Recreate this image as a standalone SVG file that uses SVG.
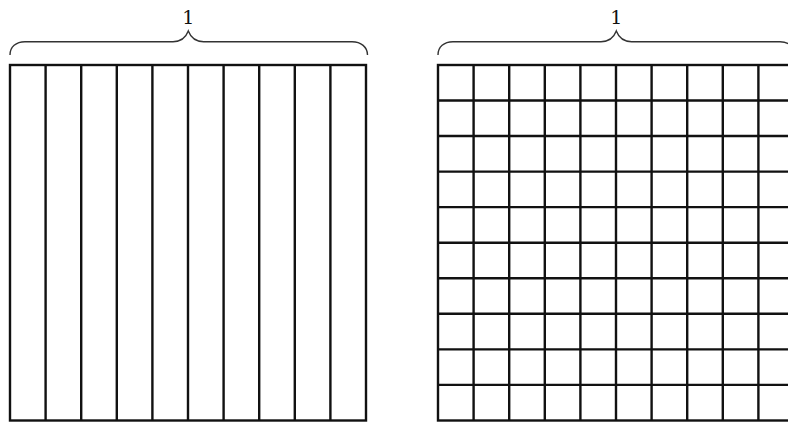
<svg xmlns="http://www.w3.org/2000/svg" width="788" height="423" viewBox="0 0 788 423">
<style>
.brace{fill:none;stroke:#333;stroke-width:1.4}
.lbl{font-family:"DejaVu Serif","Liberation Serif",serif;font-size:19px;fill:#111;text-anchor:middle}
.grid{fill:none;stroke:#111;stroke-width:2.4}
</style>
<rect width="788" height="423" fill="#fff"/>
<g id="left-brace">
<path class="brace" d="M10,55 C10,47 16,41.7 25,41.7 H173 C181,41.7 186,37 188.3,31 C190.6,37 195.6,41.7 203.6,41.7 H352 C361,41.7 367.5,47 367.5,55"/>
<text class="lbl" x="188.3" y="24">1</text>
</g>
<g id="left-square">
<rect class="grid" x="10" y="65" width="356" height="355.5"/>
<path class="grid" d="M45.6,65V420.5M81.2,65V420.5M116.8,65V420.5M152.4,65V420.5M188,65V420.5M223.6,65V420.5M259.2,65V420.5M294.8,65V420.5M330.4,65V420.5"/>
</g>
<g id="right-brace">
<path class="brace" d="M438,55 C438,47 444,41.7 453,41.7 H601 C609,41.7 614,37 616.3,31 C618.6,37 623.6,41.7 631.6,41.7 H780 C789,41.7 794.5,47 794.5,55"/>
<text class="lbl" x="616.3" y="24">1</text>
</g>
<g id="right-square">
<rect class="grid" x="438" y="65" width="356" height="355.5"/>
<path class="grid" d="M473.6,65V420.5M509.2,65V420.5M544.8,65V420.5M580.4,65V420.5M616,65V420.5M651.6,65V420.5M687.2,65V420.5M722.8,65V420.5M758.4,65V420.5"/>
<path class="grid" d="M438,100.5H794M438,136H794M438,171.6H794M438,207.1H794M438,242.7H794M438,278.2H794M438,313.8H794M438,349.4H794M438,384.9H794"/>
</g>
</svg>
